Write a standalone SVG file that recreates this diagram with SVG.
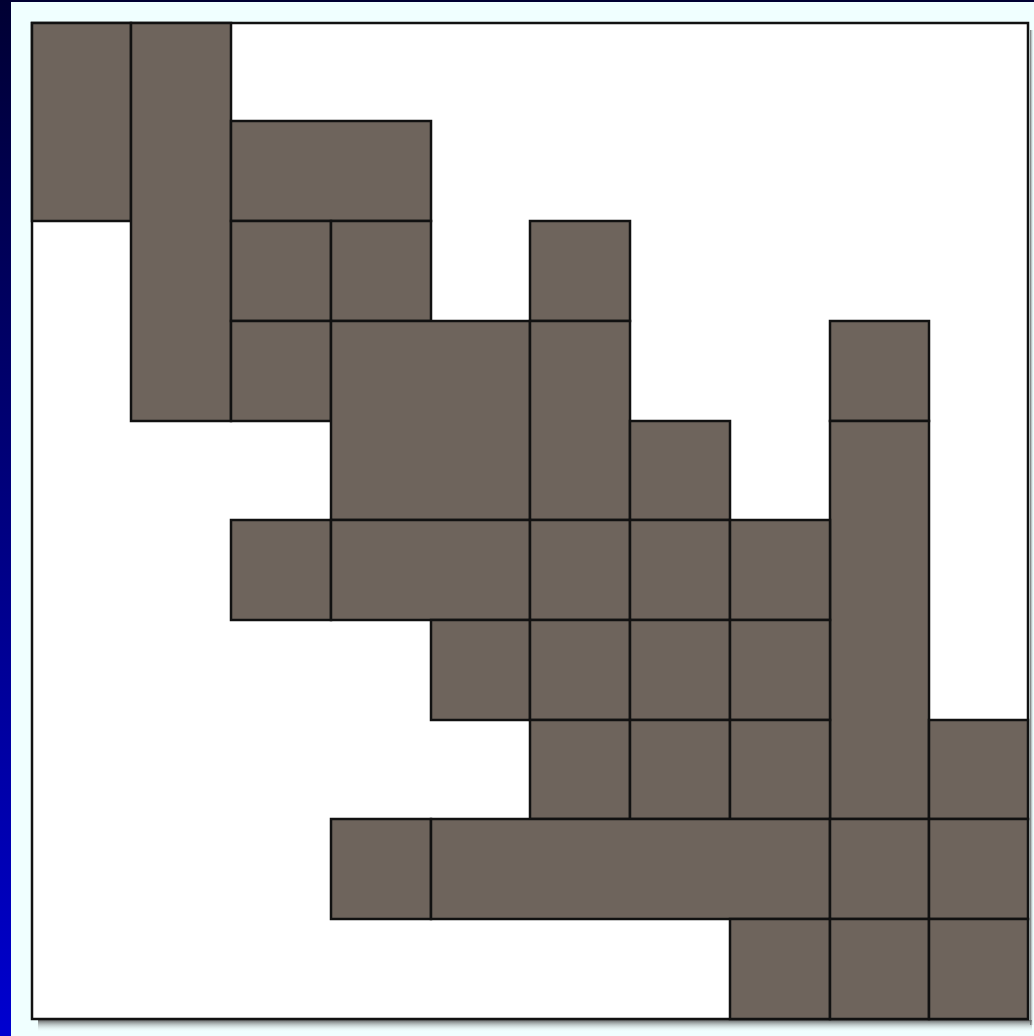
<svg xmlns="http://www.w3.org/2000/svg" width="1034" height="1036" viewBox="0 0 1034 1036">
<defs>
<linearGradient id="side" x1="0" y1="0" x2="0" y2="1">
<stop offset="0" stop-color="#000033"/>
<stop offset="0.5" stop-color="#000080"/>
<stop offset="1" stop-color="#0000d0"/>
</linearGradient>
<linearGradient id="shb" x1="0" y1="0" x2="0" y2="1">
<stop offset="0" stop-color="#555" stop-opacity="0.9"/>
<stop offset="1" stop-color="#f0ffff" stop-opacity="0"/>
</linearGradient>
<linearGradient id="shr" x1="0" y1="0" x2="1" y2="0">
<stop offset="0" stop-color="#555" stop-opacity="0.9"/>
<stop offset="1" stop-color="#f0ffff" stop-opacity="0"/>
</linearGradient>
</defs>
<style>
.b{fill:#6e645c;stroke:#111;stroke-width:2.5}
</style>
<rect x="0" y="0" width="1034" height="1036" fill="#f0ffff"/>
<rect x="0" y="0" width="11" height="1036" fill="url(#side)"/>
<rect x="0" y="0" width="1034" height="2" fill="#000033"/>
<rect x="38" y="1020" width="994" height="12" fill="url(#shb)"/>
<rect x="1030" y="30" width="4" height="995" fill="url(#shr)"/>
<rect id="frame" x="32" y="23" width="996" height="996" fill="#ffffff" stroke="#111" stroke-width="2.5"/>
<g id="blocks">
<rect id="n1" class="b" x="32" y="23" width="99" height="198"/>
<rect id="n2" class="b" x="131" y="23" width="100" height="398"/>
<rect id="n3" class="b" x="231" y="121" width="200" height="100"/>
<rect id="n4" class="b" x="231" y="221" width="100" height="100"/>
<rect id="n5" class="b" x="331" y="221" width="100" height="100"/>
<rect id="n6" class="b" x="530" y="221" width="100" height="100"/>
<rect id="n7" class="b" x="231" y="321" width="100" height="100"/>
<rect id="n8" class="b" x="331" y="321" width="199" height="199"/>
<rect id="n9" class="b" x="530" y="321" width="100" height="199"/>
<rect id="n10" class="b" x="630" y="421" width="100" height="99"/>
<rect id="n11" class="b" x="830" y="321" width="99" height="100"/>
<rect id="n12" class="b" x="830" y="421" width="99" height="398"/>
<rect id="n13" class="b" x="231" y="520" width="100" height="100"/>
<rect id="n14" class="b" x="331" y="520" width="199" height="100"/>
<rect id="n15" class="b" x="530" y="520" width="100" height="100"/>
<rect id="n16" class="b" x="630" y="520" width="100" height="100"/>
<rect id="n17" class="b" x="730" y="520" width="100" height="100"/>
<rect id="n18" class="b" x="431" y="620" width="99" height="100"/>
<rect id="n19" class="b" x="530" y="620" width="100" height="100"/>
<rect id="n20" class="b" x="630" y="620" width="100" height="100"/>
<rect id="n21" class="b" x="730" y="620" width="100" height="100"/>
<rect id="n22" class="b" x="530" y="720" width="100" height="99"/>
<rect id="n23" class="b" x="630" y="720" width="100" height="99"/>
<rect id="n24" class="b" x="730" y="720" width="100" height="99"/>
<rect id="n25" class="b" x="929" y="720" width="99" height="99"/>
<rect id="n26" class="b" x="331" y="819" width="100" height="100"/>
<rect id="n27" class="b" x="431" y="819" width="399" height="100"/>
<rect id="n28" class="b" x="830" y="819" width="99" height="100"/>
<rect id="n29" class="b" x="929" y="819" width="99" height="100"/>
<rect id="n30" class="b" x="730" y="919" width="100" height="100"/>
<rect id="n31" class="b" x="830" y="919" width="99" height="100"/>
<rect id="n32" class="b" x="929" y="919" width="99" height="100"/>
</g>
<g id="connectors"/>
</svg>
